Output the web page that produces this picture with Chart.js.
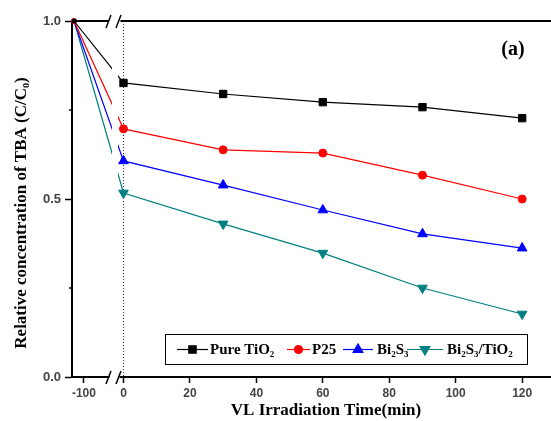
<!DOCTYPE html>
<html>
<head>
<meta charset="utf-8">
<script src="https://cdn.jsdelivr.net/npm/chart.js@4.4.1/dist/chart.umd.min.js"></script>
<style>
  html, body { margin: 0; padding: 0; background: #fff; }
  #wrap { width: 551px; height: 421px; }
</style>
</head>
<body>
<div id="wrap"><canvas id="chart1" width="551" height="421"></canvas></div>
<script>
// times in minutes, first point is the start of the dark period
const times = [-120, 0, 30, 60, 90, 120];
const seriesNames = ['Pure TiO₂', 'P25', 'Bi₂S₃', 'Bi₂S₃/TiO₂'];
const pureTiO2 = [1.0, 0.826, 0.795, 0.772, 0.758, 0.727];
const p25 = [1.0, 0.697, 0.638, 0.629, 0.567, 0.500];
const bi2s3 = [1.0, 0.607, 0.539, 0.469, 0.402, 0.362];
const bi2s3TiO2 = [1.0, 0.517, 0.430, 0.348, 0.250, 0.177];
const xTickLabels = [-100, 0, 20, 40, 60, 80, 100, 120];
const yTickLabels = [0.0, 0.5, 1.0];
const yMinorTicks = [0.25, 0.75];

// broken axis: the dark period is squeezed in front of zero
function toAxis(t) {
    return t >= 0 ? t : -11.9 + (t + 100) * 0.15;
}

const serif = "'Liberation Serif', 'Times New Roman', serif";
const sans = "'Liberation Sans', Arial, sans-serif";

const seriesStyle = [
    { color: '#000000', point: 'rect', radius: 5.2, rotation: 0 },
    { color: '#ff0000', point: 'circle', radius: 4, rotation: 0 },
    { color: '#0000ff', point: 'triangle', radius: 5.6, rotation: 0 },
    { color: '#008080', point: 'triangle', radius: 5.6, rotation: 180 }
];

const seriesValues = [pureTiO2, p25, bi2s3, bi2s3TiO2];

const datasets = seriesValues.map((vals, i) => {
    const s = seriesStyle[i];
    return {
        label: seriesNames[i],
        data: vals.map((v, j) => ({ x: toAxis(times[j]), y: v })),
        borderColor: s.color,
        backgroundColor: s.color,
        borderWidth: 1.2,
        pointStyle: s.point,
        pointRotation: s.rotation,
        pointRadius: ctx => ctx.dataIndex === 0 ? 2.5 : s.radius,
        pointBorderWidth: 1,
        pointBorderColor: s.color,
        pointBackgroundColor: s.color,
        tension: 0,
        clip: false
    };
});

// gap in the lines where the axis is broken
const breakGap = {
    id: 'breakGap',
    beforeDatasetsDraw(chart) {
        const { ctx, chartArea, scales } = chart;
        const x0 = scales.x.getPixelForValue(0);
        // dotted line at t = 0
        ctx.save();
        ctx.strokeStyle = '#333';
        ctx.lineWidth = 1;
        ctx.setLineDash([1, 2]);
        ctx.beginPath();
        ctx.moveTo(x0, chartArea.top);
        ctx.lineTo(x0, chartArea.bottom);
        ctx.stroke();
        ctx.restore();

        ctx.save();
        ctx.beginPath();
        ctx.rect(0, 0, chart.width, chart.height);
        ctx.rect(x0 - 11.5, chartArea.top + 2, 6, chartArea.bottom - chartArea.top);
        ctx.clip('evenodd');
    },
    afterDatasetsDraw(chart) {
        chart.ctx.restore();
    }
};

const decorations = {
    id: 'decorations',
    afterDraw(chart) {
        const { ctx, chartArea, scales } = chart;
        const x0 = scales.x.getPixelForValue(0);
        const top = chartArea.top, bottom = chartArea.bottom;
        const left = chartArea.left, right = chart.width;

        ctx.save();
        // minor y ticks
        ctx.strokeStyle = '#000';
        ctx.lineWidth = 1.5;
        yMinorTicks.forEach(v => {
            const y = scales.y.getPixelForValue(v);
            ctx.beginPath();
            ctx.moveTo(left - 3, y);
            ctx.lineTo(left, y);
            ctx.stroke();
        });

        // top frame line with a break
        ctx.lineWidth = 2;
        ctx.beginPath();
        ctx.moveTo(left, top);
        ctx.lineTo(x0 - 15, top);
        ctx.moveTo(x0 - 3, top);
        ctx.lineTo(right, top);
        // bottom axis runs to the picture edge
        ctx.moveTo(chartArea.right - 1, bottom);
        ctx.lineTo(right, bottom);
        ctx.stroke();

        // white gap on the bottom axis
        ctx.fillStyle = '#fff';
        ctx.fillRect(x0 - 14, bottom - 2, 10, 4);

        // break marks
        ctx.lineWidth = 1.5;
        [top, bottom].forEach(y => {
            [x0 - 15, x0 - 5].forEach(x => {
                ctx.beginPath();
                ctx.moveTo(x - 2.5, y + 7);
                ctx.lineTo(x + 2.5, y - 6);
                ctx.stroke();
            });
        });

        // axis titles
        ctx.fillStyle = '#000';
        ctx.font = 'bold 17px ' + serif;
        ctx.textAlign = 'center';
        ctx.textBaseline = 'middle';
        ctx.fillText('VL Irradiation Time(min)', 326, 411);

        ctx.save();
        ctx.translate(22, 213);
        ctx.rotate(-Math.PI / 2);
        ctx.fillText('Relative concentration of TBA (C/C₀)', 0, 0);
        ctx.restore();

        ctx.font = 'bold 20px ' + serif;
        ctx.fillText('(a)', 513, 50);

        // legend box inside the plot
        ctx.lineWidth = 1;
        ctx.strokeStyle = '#000';
        ctx.strokeRect(165.5, 334.5, 362, 30);
        const lineStart = [177, 287, 343, 407];
        const lineEnd = [208, 310, 373, 443];
        const textStart = [210, 312, 377, 447];
        const ly = 349.5;
        ctx.font = 'bold 15px ' + serif;
        ctx.textAlign = 'left';
        chart.data.datasets.forEach((ds, i) => {
            const s = seriesStyle[i];
            ctx.strokeStyle = s.color;
            ctx.lineWidth = 1.2;
            ctx.beginPath();
            ctx.moveTo(lineStart[i], ly);
            ctx.lineTo(lineEnd[i], ly);
            ctx.stroke();
            ctx.fillStyle = s.color;
            Chart.helpers.drawPoint(ctx, {
                pointStyle: s.point,
                rotation: s.rotation,
                radius: s.radius,
                borderWidth: 1
            }, (lineStart[i] + lineEnd[i]) / 2, ly);
            ctx.fillStyle = '#000';
            ctx.fillText(ds.label, textStart[i], ly + 1);
        });
        ctx.restore();
    }
};

new Chart(document.getElementById('chart1'), {
    type: 'line',
    data: { datasets: datasets },
    options: {
        responsive: false,
        animation: false,
        devicePixelRatio: 1,
        layout: { padding: { top: 21, right: 0, left: 0, bottom: 0 } },
        plugins: {
            legend: { display: false },
            tooltip: { enabled: false }
        },
        scales: {
            x: {
                type: 'linear',
                min: -15.5,
                max: 126.7,
                afterBuildTicks: axis => {
                    axis.ticks = xTickLabels.map(t => ({ value: toAxis(t) }));
                },
                afterFit: axis => { axis.height = 44; },
                ticks: {
                    autoSkip: false,
                    maxRotation: 0,
                    padding: 3,
                    color: '#444',
                    font: { family: sans, size: 12, weight: 'bold' },
                    callback: value => {
                        const t = xTickLabels.find(t => Math.abs(toAxis(t) - value) < 0.01);
                        return t === undefined ? '' : String(t);
                    }
                },
                grid: {
                    display: true,
                    drawOnChartArea: false,
                    drawTicks: true,
                    tickLength: 6,
                    tickWidth: 1.5,
                    color: '#000'
                },
                border: { display: true, color: '#000', width: 2 }
            },
            y: {
                min: 0,
                max: 1,
                afterBuildTicks: axis => {
                    axis.ticks = yTickLabels.map(v => ({ value: v }));
                },
                afterFit: axis => { axis.width = 72; },
                ticks: {
                    padding: 4,
                    color: '#444',
                    font: { family: sans, size: 13, weight: 'bold' },
                    callback: value => value.toFixed(1)
                },
                grid: {
                    display: true,
                    drawOnChartArea: false,
                    drawTicks: true,
                    tickLength: 7,
                    tickWidth: 1.5,
                    color: '#000'
                },
                border: { display: true, color: '#000', width: 2 }
            }
        }
    },
    plugins: [breakGap, decorations]
});
</script>
</body>
</html>
